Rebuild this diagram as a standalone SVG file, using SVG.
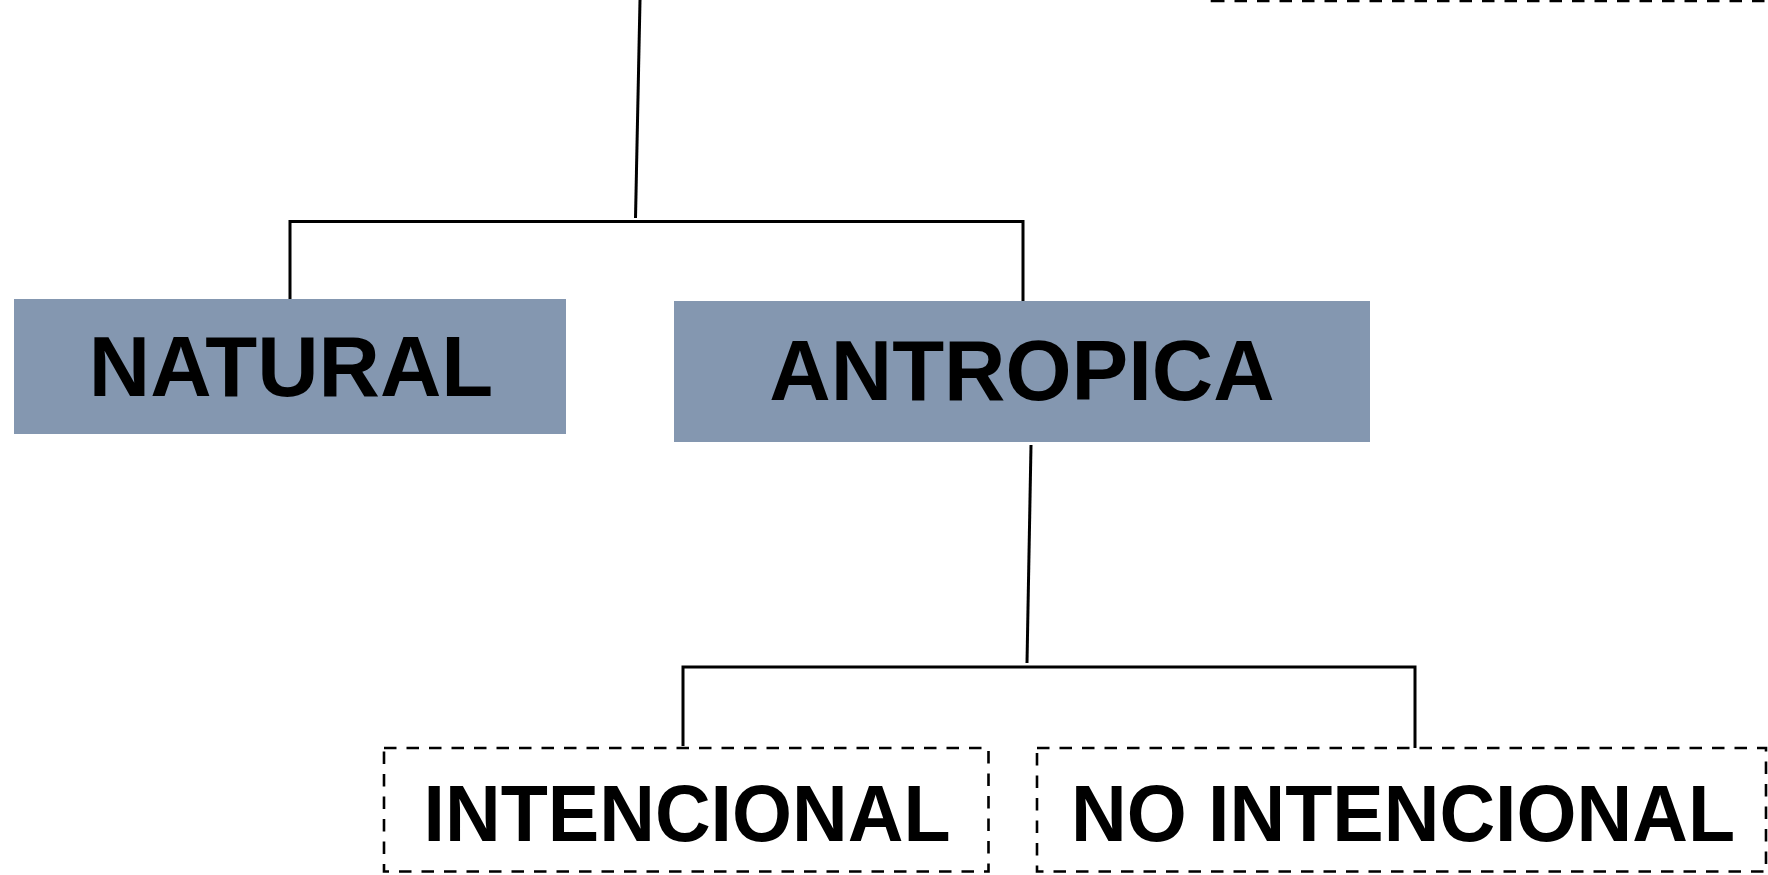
<svg xmlns="http://www.w3.org/2000/svg" width="1768" height="875" viewBox="0 0 1768 875">
<style>
.box{fill:#8497B0;stroke:none}
.dbox{fill:none;stroke:#000;stroke-width:2.6;stroke-dasharray:12.5 10}
.lbl{font-family:"Liberation Sans",Arial,sans-serif;font-weight:bold;fill:#000;text-anchor:middle}
.con{fill:none;stroke:#000;stroke-width:3}
</style>
<rect width="1768" height="875" fill="#fff"/>
<g id="connectors">
<line class="con" x1="640" y1="0" x2="635.5" y2="218"/>
<polyline class="con" points="290,299 290,221.5 1023,221.5 1023,301"/>
<line class="con" x1="1031" y1="445" x2="1027" y2="663"/>
<polyline class="con" points="683,746 683,667 1415,667 1415,748"/>
</g>
<g id="node-top">
<path class="dbox" d="M1212,1 H1812 V-120 H1212 Z"/>
</g>
<g id="node-natural">
<rect class="box" x="14" y="299" width="552" height="135"/>
<text class="lbl" x="291" y="396" font-size="85">NATURAL</text>
</g>
<g id="node-antropica">
<rect class="box" x="674" y="301" width="696" height="141"/>
<text class="lbl" x="1022" y="400" font-size="85">ANTROPICA</text>
</g>
<g id="node-intencional">
<rect class="dbox" x="384" y="748" width="604.5" height="123.5"/>
<text class="lbl" x="687" y="841" font-size="80" textLength="527" lengthAdjust="spacingAndGlyphs">INTENCIONAL</text>
</g>
<g id="node-no-intencional">
<rect class="dbox" x="1037" y="748" width="729" height="123.5"/>
<text class="lbl" x="1403" y="841" font-size="80" textLength="664" lengthAdjust="spacingAndGlyphs">NO INTENCIONAL</text>
</g>
</svg>
